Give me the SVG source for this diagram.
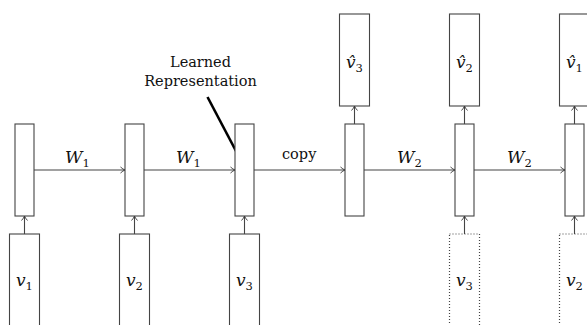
<svg xmlns="http://www.w3.org/2000/svg" width="587" height="325" viewBox="0 0 587 325">
  <defs>
    <marker id="tip" markerWidth="8" markerHeight="8" refX="6" refY="4" orient="auto" markerUnits="userSpaceOnUse">
      <path d="M1.5,1 Q4,3.3 6,4 Q4,4.7 1.5,7" fill="none" stroke="#333" stroke-width="0.9"/>
    </marker>
  </defs>
  <style>
    .box { fill: #fff; stroke: #444; stroke-width: 1.1; }
    .ghost { fill: #fff; stroke: #444; stroke-width: 1.2; stroke-dasharray: 1 2; }
    .edge { fill: none; stroke: #444; stroke-width: 1.1; marker-end: url(#tip); }
    text { font-family: 'DejaVu Serif', 'Liberation Serif', serif; fill: #111; }
    .math { font-style: italic; font-size: 17px; }
    .sub { font-style: normal; font-size: 11.5px; }
    .lbl { font-size: 14.5px; }
  </style>
  <rect width="587" height="325" fill="#fff"/>

  <!-- connectors -->
  <g id="connectors">
    <!-- recurrent steps -->
    <line class="edge" x1="34" y1="170" x2="125" y2="170"/>
    <line class="edge" x1="144" y1="170" x2="235" y2="170"/>
    <line class="edge" x1="254" y1="170" x2="345" y2="170"/>
    <line class="edge" x1="364" y1="170" x2="455" y2="170"/>
    <line class="edge" x1="474" y1="170" x2="565" y2="170"/>
    <!-- inputs to hidden states -->
    <line class="edge" x1="24.5" y1="234" x2="24.5" y2="216"/>
    <line class="edge" x1="134.5" y1="234" x2="134.5" y2="216"/>
    <line class="edge" x1="244.5" y1="234" x2="244.5" y2="216"/>
    <line class="edge" x1="464.5" y1="234" x2="464.5" y2="216"/>
    <line class="edge" x1="574.5" y1="234" x2="574.5" y2="216"/>
    <!-- hidden states to outputs -->
    <line class="edge" x1="354.5" y1="124" x2="354.5" y2="106"/>
    <line class="edge" x1="464.5" y1="124" x2="464.5" y2="106"/>
    <line class="edge" x1="574.5" y1="124" x2="574.5" y2="106"/>
    <!-- edge labels -->
    <text class="math" x="65" y="163">W<tspan class="sub" dy="4">1</tspan></text>
    <text class="math" x="176" y="163">W<tspan class="sub" dy="4">1</tspan></text>
    <text class="lbl" x="282" y="159">copy</text>
    <text class="math" x="397" y="163">W<tspan class="sub" dy="4">2</tspan></text>
    <text class="math" x="507" y="163">W<tspan class="sub" dy="4">2</tspan></text>
    <!-- annotation pointer -->
    <line x1="207.5" y1="97" x2="241.5" y2="161.5" stroke="#000" stroke-width="2.6"/>
  </g>

  <!-- annotation -->
  <g id="note">
    <text class="lbl" x="200.5" y="67" text-anchor="middle">Learned</text>
    <text class="lbl" x="200.5" y="86" text-anchor="middle">Representation</text>
  </g>

  <!-- encoder inputs -->
  <g id="in1"><rect class="box" x="9.5" y="234" width="30" height="100"/><text class="math" x="16" y="286">v<tspan class="sub" dy="4">1</tspan></text></g>
  <g id="in2"><rect class="box" x="119.5" y="234" width="30" height="100"/><text class="math" x="126" y="286">v<tspan class="sub" dy="4">2</tspan></text></g>
  <g id="in3"><rect class="box" x="229.5" y="234" width="30" height="100"/><text class="math" x="236" y="286">v<tspan class="sub" dy="4">3</tspan></text></g>

  <!-- decoder inputs (fed back) -->
  <g id="fb3"><rect class="ghost" x="449.5" y="234" width="30" height="100"/><text class="math" x="456" y="286">v<tspan class="sub" dy="4">3</tspan></text></g>
  <g id="fb2"><rect class="ghost" x="559.5" y="234" width="30" height="100"/><text class="math" x="566" y="286">v<tspan class="sub" dy="4">2</tspan></text></g>

  <!-- hidden states -->
  <g id="h1"><rect class="box" x="15" y="124" width="19" height="92"/></g>
  <g id="h2"><rect class="box" x="125" y="124" width="19" height="92"/></g>
  <g id="h3"><rect class="box" x="235" y="124" width="19" height="92"/></g>
  <g id="h4"><rect class="box" x="345" y="124" width="19" height="92"/></g>
  <g id="h5"><rect class="box" x="455" y="124" width="19" height="92"/></g>
  <g id="h6"><rect class="box" x="565" y="124" width="19" height="92"/></g>

  <!-- decoder outputs (v with combining circumflex) -->
  <g id="out3"><rect class="box" x="339.5" y="14" width="30" height="92"/><text class="math" x="346" y="68">v&#x302;<tspan class="sub" dy="4">3</tspan></text></g>
  <g id="out2"><rect class="box" x="449.5" y="14" width="30" height="92"/><text class="math" x="456" y="68">v&#x302;<tspan class="sub" dy="4">2</tspan></text></g>
  <g id="out1"><rect class="box" x="559.5" y="14" width="30" height="92"/><text class="math" x="566" y="68">v&#x302;<tspan class="sub" dy="4">1</tspan></text></g>
</svg>
